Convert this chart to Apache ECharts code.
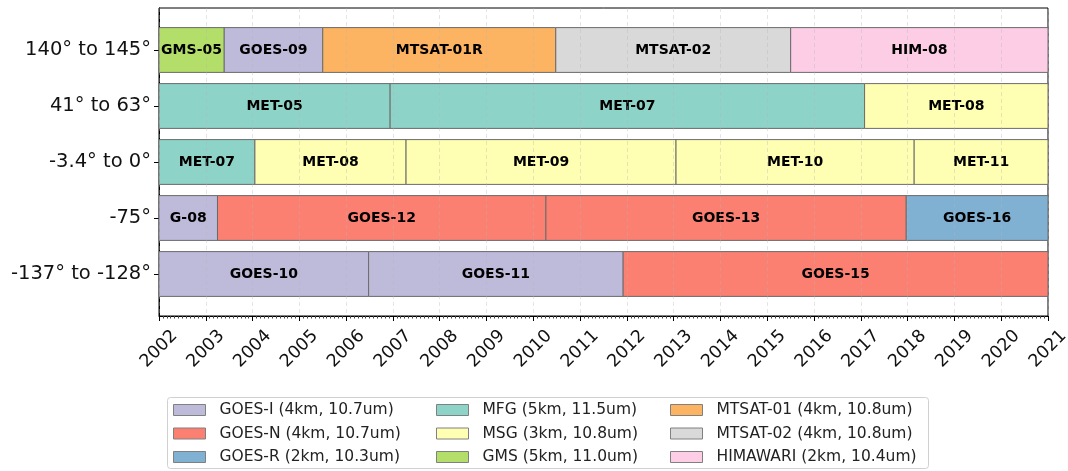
<!DOCTYPE html>
<html>
<head>
<meta charset="utf-8">
<script src="https://cdn.jsdelivr.net/npm/echarts@6/dist/echarts.min.js"></script>
<style>
  html, body { margin: 0; padding: 0; background: #fff; }
  #chart { width: 1068px; height: 471px; }
</style>
</head>
<body>
<div id="chart"></div>
<script>
// rows, bottom to top
var rowLabels = ['-137° to -128°', '-75°', '-3.4° to 0°', '41° to 63°', '140° to 145°'];
var years = [2002, 2021];

// [start year, end year, row index, satellite]
var goesI = [
    [2002, 2003.25, 1, 'G-08'],
    [2003.39, 2005.5, 4, 'GOES-09'],
    [2002, 2006.48, 0, 'GOES-10'],
    [2006.48, 2011.92, 0, 'GOES-11']
];
var goesN = [
    [2003.25, 2010.27, 1, 'GOES-12'],
    [2010.27, 2017.97, 1, 'GOES-13'],
    [2011.92, 2021, 0, 'GOES-15']
];
var goesR = [
    [2017.97, 2021, 1, 'GOES-16']
];
var mfg = [
    [2002, 2006.94, 3, 'MET-05'],
    [2006.94, 2017.08, 3, 'MET-07'],
    [2002, 2004.05, 2, 'MET-07']
];
var msg = [
    [2017.08, 2021, 3, 'MET-08'],
    [2004.05, 2007.28, 2, 'MET-08'],
    [2007.28, 2013.05, 2, 'MET-09'],
    [2013.05, 2018.14, 2, 'MET-10'],
    [2018.14, 2021, 2, 'MET-11']
];
var gms = [
    [2002, 2003.39, 4, 'GMS-05']
];
var mtsat01 = [
    [2005.5, 2010.48, 4, 'MTSAT-01R']
];
var mtsat02 = [
    [2010.48, 2015.5, 4, 'MTSAT-02']
];
var himawari = [
    [2015.5, 2021, 4, 'HIM-08']
];

var familyNames = [
    'GOES-I (4km, 10.7um)', 'GOES-N (4km, 10.7um)', 'GOES-R (2km, 10.3um)',
    'MFG (5km, 11.5um)', 'MSG (3km, 10.8um)', 'GMS (5km, 11.0um)',
    'MTSAT-01 (4km, 10.8um)', 'MTSAT-02 (4km, 10.8um)', 'HIMAWARI (2km, 10.4um)'
];
var familyColors = ['#bebada', '#fb8072', '#80b1d3', '#8dd3c7', '#ffffb3', '#b3de69', '#fdb462', '#d9d9d9', '#fccde5'];
var familyBars = [goesI, goesN, goesR, mfg, msg, gms, mtsat01, mtsat02, himawari];

var FONT = 'DejaVu Sans';

function makeRender(bars) {
    return function(params, api) {
        var start = api.coord([api.value(0), api.value(2)]);
        var end = api.coord([api.value(1), api.value(2)]);
        var h = api.size([0, 0.8])[1];
        return {
            type: 'rect',
            shape: { x: start[0], y: start[1] - h / 2, width: end[0] - start[0], height: h },
            style: { fill: api.visual('color'), stroke: '#6b6b6b', lineWidth: 1 },
            textContent: {
                style: {
                    text: bars[params.dataIndex][3],
                    fontFamily: FONT, fontWeight: 'bold', fontSize: 14, fill: '#000'
                }
            },
            textConfig: { position: 'inside' }
        };
    };
}

var series = familyBars.map(function(bars, i) {
    return {
        type: 'custom',
        name: familyNames[i],
        renderItem: makeRender(bars),
        itemStyle: { color: familyColors[i], borderColor: '#808080', borderWidth: 1 },
        encode: { x: [0, 1], y: 2 },
        data: bars.map(function(b) { return [b[0], b[1], b[2]]; }),
        z: 2
    };
});

function legendCol(names, left) {
    return {
        data: names,
        orient: 'vertical',
        left: left,
        top: 402,
        padding: 0,
        itemWidth: 32,
        itemHeight: 11,
        itemGap: 7.5,
        icon: 'rect',
        selectedMode: false,
        itemStyle: { borderColor: '#808080', borderWidth: 1 },
        textStyle: { fontFamily: FONT, fontSize: 15.5, lineHeight: 16, color: '#222', padding: [0, 0, 0, 9] }
    };
}

var chart = echarts.init(document.getElementById('chart'), null, { renderer: 'canvas' });

chart.setOption({
    animation: false,
    backgroundColor: '#fff',
    grid: {
        left: 159, right: 20, top: 8, bottom: 155,
        show: true, borderColor: '#000', borderWidth: 1,
        outerBoundsMode: 'none'
    },
    xAxis: {
        type: 'value',
        min: years[0], max: years[1], interval: 1,
        z: 3,
        axisLine: { onZero: false, lineStyle: { color: '#000', width: 1 } },
        axisTick: { show: true, length: 5, lineStyle: { color: '#000' } },
        minorTick: { show: true, splitNumber: 12, length: 2.5, lineStyle: { color: '#444' } },
        splitLine: { show: true, lineStyle: { color: 'rgba(180,180,180,0.35)', type: [4, 3], width: 1 } },
        axisLabel: {
            rotate: 45, interval: 0, margin: 33,
            align: 'center', verticalAlign: 'middle',
            fontFamily: FONT, fontSize: 17.5, color: '#111',
            formatter: function(v) { return String(v); }
        }
    },
    yAxis: {
        type: 'value',
        min: -0.75, max: 4.75,
        axisLine: { show: true, onZero: false, lineStyle: { color: '#000', width: 1 } },
        axisTick: { show: true, length: 5, customValues: [0, 1, 2, 3, 4], lineStyle: { color: '#000' } },
        splitLine: { show: false },
        axisLabel: {
            customValues: [0, 1, 2, 3, 4],
            margin: 8,
            fontFamily: FONT, fontSize: 19.5, color: '#111',
            formatter: function(v) { return rowLabels[Math.round(v)]; }
        }
    },
    legend: [
        legendCol(familyNames.slice(0, 3), 173),
        legendCol(familyNames.slice(3, 6), 436),
        legendCol(familyNames.slice(6, 9), 670)
    ],
    graphic: [{
        type: 'rect',
        shape: { x: 167.5, y: 397.5, width: 761, height: 71, r: 3 },
        style: { fill: '#fff', stroke: '#d0d0d0', lineWidth: 1 },
        z: -1
    }],
    series: series
});
</script>
</body>
</html>
